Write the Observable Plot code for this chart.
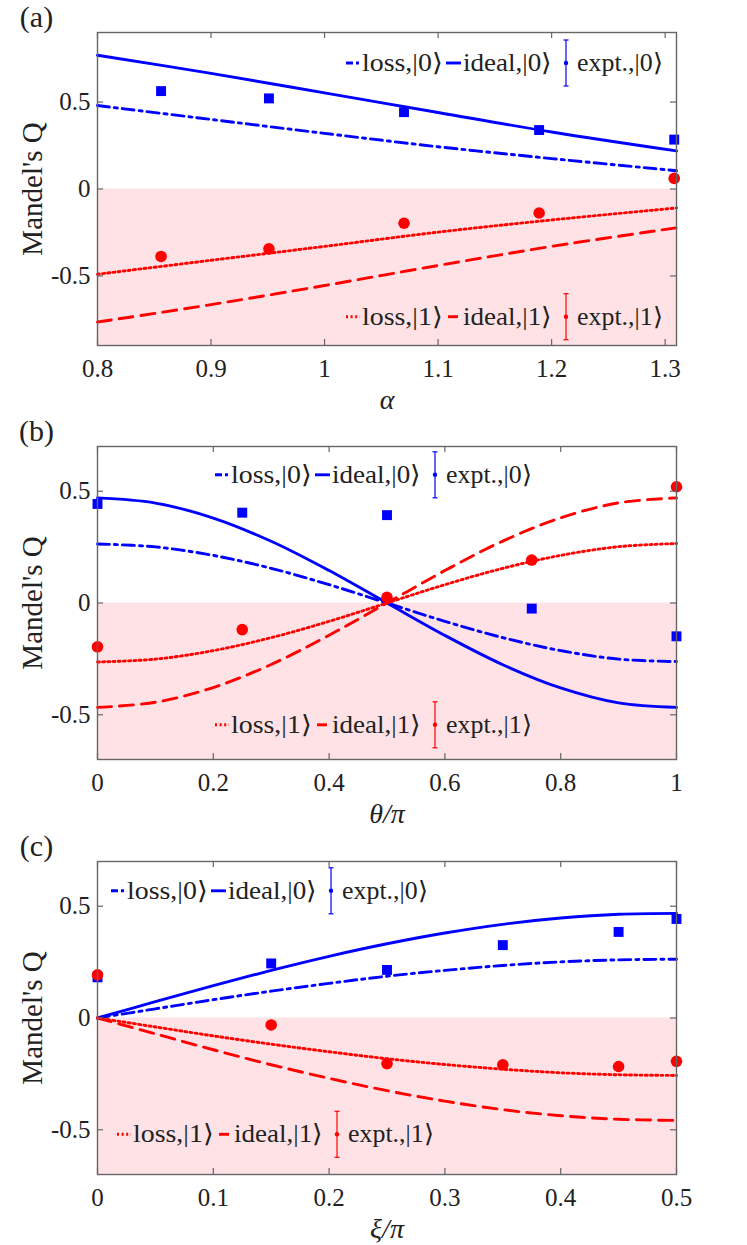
<!DOCTYPE html>
<html><head><meta charset="utf-8">
<script src="https://cdn.jsdelivr.net/npm/d3@7"></script>
<script src="https://cdn.jsdelivr.net/npm/@observablehq/plot@0.6"></script>
<style>
body{margin:0;background:#fff;}
#chart{width:747px;}
#chart svg{display:block;overflow:visible;}
#chart svg text, #chart svg tspan{font-family:"Liberation Serif","Times New Roman",serif !important;}
</style></head><body><div id="chart"></div>
<script>
// ---------- panel (a) ----------
const aX      = [0.8, 0.9, 1.0, 1.1, 1.2, 1.31];
const aIdeal0 = [0.769, 0.665, 0.553, 0.44, 0.328, 0.219];
const aLoss0  = [0.480, 0.40, 0.32, 0.243, 0.175, 0.105];
const aLoss1  = [-0.49, -0.41, -0.33, -0.248, -0.178, -0.109];
const aIdeal1 = [-0.765, -0.665, -0.555, -0.44, -0.33, -0.223];
const aExptX  = [0.856, 0.951, 1.07, 1.189, 1.308];
const aExpt0  = [0.563, 0.521, 0.442, 0.339, 0.284];
const aExpt1  = [-0.388, -0.344, -0.197, -0.138, 0.061];
const aXTicks = [0.8, 0.9, 1, 1.1, 1.2, 1.3];
// ---------- panel (b) ----------
const bX      = [0, 0.1, 0.2, 0.3, 0.4, 0.5, 0.6, 0.7, 0.8, 0.9, 1.0];
const bIdeal0 = [0.47, 0.447, 0.38, 0.276, 0.145, 0, -0.145, -0.276, -0.38, -0.447, -0.467];
const bLoss0  = [0.264, 0.251, 0.213, 0.155, 0.082, 0, -0.082, -0.155, -0.213, -0.251, -0.262];
const bLoss1  = [-0.264, -0.251, -0.213, -0.155, -0.082, 0, 0.082, 0.155, 0.213, 0.252, 0.266];
const bIdeal1 = [-0.467, -0.444, -0.378, -0.275, -0.144, 0, 0.145, 0.277, 0.381, 0.448, 0.47];
const bExptX  = [0, 0.25, 0.5, 0.75, 1];
const bExpt0  = [0.443, 0.404, 0.393, -0.025, -0.149];
const bExpt1  = [-0.196, -0.119, 0.025, 0.192, 0.52];
const bXTicks = [0, 0.2, 0.4, 0.6, 0.8, 1];
// ---------- panel (c) ----------
const cX      = [0, 0.05, 0.1, 0.15, 0.2, 0.25, 0.3, 0.35, 0.4, 0.45, 0.5];
const cIdeal0 = [0, 0.073, 0.145, 0.213, 0.276, 0.332, 0.38, 0.419, 0.447, 0.464, 0.468];
const cLoss0  = [0, 0.041, 0.082, 0.12, 0.155, 0.187, 0.213, 0.235, 0.251, 0.26, 0.263];
const cLoss1  = [0, -0.04, -0.08, -0.117, -0.151, -0.182, -0.208, -0.229, -0.245, -0.254, -0.257];
const cIdeal1 = [0, -0.071, -0.142, -0.209, -0.27, -0.325, -0.372, -0.41, -0.437, -0.453, -0.458];
const cExptX  = [0, 0.15, 0.25, 0.35, 0.45, 0.5];
const cExpt0  = [0.182, 0.244, 0.215, 0.326, 0.385, 0.443];
const cExpt1  = [0.193, -0.031, -0.204, -0.209, -0.217, -0.194];
const cXTicks = [0, 0.1, 0.2, 0.3, 0.4, 0.5];
// ---------- shared labels ----------
const yTicks = [-0.5, 0, 0.5];
const yLabel = "Mandel's Q";
const panelTags = ["(a)", "(b)", "(c)"];
const xLabels = ["α", "θ/π", "ξ/π"];
const legend0 = ["loss,|0⟩", "ideal,|0⟩", "expt.,|0⟩"];
const legend1 = ["loss,|1⟩", "ideal,|1⟩", "expt.,|1⟩"];

const FONT = '"Liberation Serif","Times New Roman",serif';
const BLUE = "#0000ff", RED = "#ff0000", SHADE = "#ffe2e5", AXIS = "#666666", INK = "#222222";
const W = 747, ML = 97, MR = 71, MT = 32;
const DASH = "14,8", DASHDOT = "12,5,3,5", DOT = "2,3.2";

const rows = (xs, ys) => xs.map((x, i) => ({x, y: ys[i]}));

function panel(cfg) {
  const H = cfg.height, MB = H - MT - 313;
  const xd = cfg.xDomain, yd = cfg.yDomain;
  const fw = W - ML - MR, fh = H - MT - MB;
  const lineOpts = {x: "x", y: "y", strokeWidth: 2.9, curve: "catmull-rom"};
  const txt = {fontFamily: FONT, fill: INK};
  const svg = Plot.plot({
    width: W, height: H, marginLeft: ML, marginRight: MR, marginTop: MT, marginBottom: MB,
    style: {fontFamily: FONT, background: "white", color: INK, overflow: "visible"},
    x: {domain: xd}, y: {domain: yd},
    marks: [
      Plot.rect([0], {x1: xd[0], x2: xd[1], y1: yd[0], y2: 0, fill: SHADE}),
      Plot.line(rows(cfg.x, cfg.loss0), {...lineOpts, stroke: BLUE, strokeDasharray: DASHDOT}),
      Plot.line(rows(cfg.x, cfg.ideal0), {...lineOpts, stroke: BLUE}),
      Plot.line(rows(cfg.x, cfg.loss1), {...lineOpts, stroke: RED, strokeDasharray: DOT}),
      Plot.line(rows(cfg.x, cfg.ideal1), {...lineOpts, stroke: RED, strokeDasharray: DASH}),
      Plot.dot(rows(cfg.ex, cfg.e0), {x: "x", y: "y", symbol: "square", r: 5.6, fill: BLUE}),
      Plot.dot(rows(cfg.ex, cfg.e1), {x: "x", y: "y", symbol: "circle", r: 5.8, fill: RED}),
      Plot.tickX(cfg.xTicks, {stroke: AXIS, strokeWidth: 1.2, insetTop: fh - 6}),
      Plot.tickX(cfg.xTicks, {stroke: AXIS, strokeWidth: 1.2, insetBottom: fh - 6}),
      Plot.tickY(yTicks, {stroke: AXIS, strokeWidth: 1.2, insetRight: fw - 6}),
      Plot.tickY(yTicks, {stroke: AXIS, strokeWidth: 1.2, insetLeft: fw - 6}),
      Plot.frame({stroke: AXIS, strokeWidth: 1.4}),
      Plot.axisX(cfg.xTicks, {...txt, tickSize: 0, tickPadding: 14, fontSize: 25, tickFormat: d => String(d), label: null}),
      Plot.axisY(yTicks, {...txt, tickSize: 0, tickPadding: 7, fontSize: 25, tickFormat: d => String(d), label: null}),
      Plot.text([cfg.xLabel], {...txt, frameAnchor: "bottom", dy: 55, fontSize: 28, fontStyle: "italic", lineAnchor: "middle", textAnchor: "middle"}),
      Plot.text([yLabel], {...txt, frameAnchor: "left", dx: -65, rotate: -90, fontSize: 29, lineAnchor: "middle", textAnchor: "middle"}),
      Plot.text([cfg.tag], {...txt, frameAnchor: "top-left", dx: -61, dy: -15, fontSize: 30, lineAnchor: "middle", textAnchor: "middle"})
    ]
  });
  addLegend(svg, cfg.legTop, BLUE, legend0, "dashdot", "solid");
  addLegend(svg, cfg.legBot, RED, legend1, "dot", "dash");
  d3.select(svg).selectAll("text").style("font-family", FONT);
  return svg;
}

function addLegend(svg, pos, color, labels, s1, s2) {
  const [x0, cy] = pos;
  const g = d3.select(svg).append("g")
    .attr("font-family", FONT).attr("font-size", 25).attr("fill", INK).attr("text-anchor", "start");
  const sample = (kind, xa, xb) => {
    const l = g.append("line").attr("x1", xa).attr("x2", xb).attr("y1", cy).attr("y2", cy)
      .attr("stroke", color).attr("stroke-width", 2.9);
    if (kind === "dashdot") l.attr("stroke-dasharray", "7,3,3,3");
    if (kind === "dot") l.attr("stroke-dasharray", "2,2.6");
  };
  sample(s1, x0, x0 + 14);
  if (s2 === "dash") sample("solid", x0 + 102, x0 + 112);
  else sample(s2, x0 + 100, x0 + 115);
  // error bar sample
  const ex = x0 + 220;
  g.append("line").attr("x1", ex).attr("x2", ex).attr("y1", cy - 23).attr("y2", cy + 23).attr("stroke", color).attr("stroke-width", 1.2);
  g.append("line").attr("x1", ex - 2.5).attr("x2", ex + 2.5).attr("y1", cy - 23).attr("y2", cy - 23).attr("stroke", color).attr("stroke-width", 1.2);
  g.append("line").attr("x1", ex - 2.5).attr("x2", ex + 2.5).attr("y1", cy + 23).attr("y2", cy + 23).attr("stroke", color).attr("stroke-width", 1.2);
  g.append("circle").attr("cx", ex).attr("cy", cy).attr("r", 2.2).attr("fill", color);
  const tx = [x0 + 16, x0 + 117, x0 + 231];
  const tw = [81, 89, 86];
  labels.forEach((t, i) => g.append("text").attr("x", tx[i]).attr("y", cy + 8)
    .attr("textLength", tw[i]).attr("lengthAdjust", "spacingAndGlyphs").text(t));
}

const cfgs = [
  {tag: panelTags[0], xLabel: xLabels[0], height: 414, xDomain: [0.8, 1.31], yDomain: [-0.9, 0.9],
   x: aX, ideal0: aIdeal0, loss0: aLoss0, loss1: aLoss1, ideal1: aIdeal1, ex: aExptX, e0: aExpt0, e1: aExpt1,
   xTicks: aXTicks, legTop: [346, 63], legBot: [346, 316.7]},
  {tag: panelTags[1], xLabel: xLabels[1], height: 415, xDomain: [0, 1], yDomain: [-0.7, 0.7],
   x: bX, ideal0: bIdeal0, loss0: bLoss0, loss1: bLoss1, ideal1: bIdeal1, ex: bExptX, e0: bExpt0, e1: bExpt1,
   xTicks: bXTicks, legTop: [215, 60.8], legBot: [215, 310.8]},
  {tag: panelTags[2], xLabel: xLabels[2], height: 416, xDomain: [0, 0.5], yDomain: [-0.7, 0.7],
   x: cX, ideal0: cIdeal0, loss0: cLoss0, loss1: cLoss1, ideal1: cIdeal1, ex: cExptX, e0: cExpt0, e1: cExpt1,
   xTicks: cXTicks, legTop: [111, 61.8], legBot: [117, 305.3]}
];
const root = document.getElementById("chart");
cfgs.forEach(c => root.appendChild(panel(c)));
</script></body></html>
